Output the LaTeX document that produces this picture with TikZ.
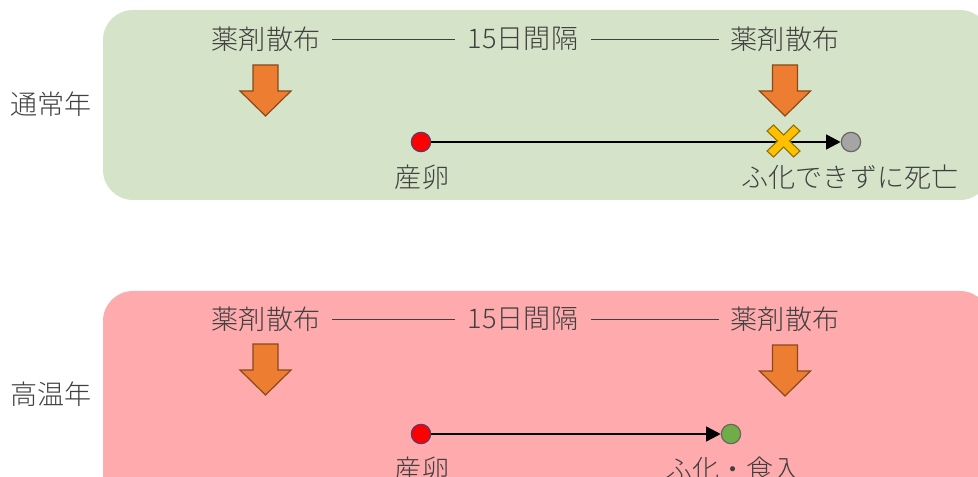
\documentclass[tikz,border=0pt]{standalone}
\usepackage{fontspec}
\setmainfont{Noto Sans CJK JP Light}
\usetikzlibrary{arrows.meta}
\definecolor{txt}{HTML}{404040}
\definecolor{gpanel}{HTML}{D5E4C8}
\definecolor{ppanel}{HTML}{FFABAD}
\definecolor{orng}{HTML}{ED7D31}
\definecolor{orngd}{HTML}{8A4A18}
\definecolor{xcol}{HTML}{FFC000}
\definecolor{xdark}{HTML}{8F6D0A}
\definecolor{grn}{HTML}{70AD47}
\definecolor{gry}{HTML}{A5A5A5}
\definecolor{redline}{HTML}{5A3A6A}
\tikzset{
 x=0.75pt,y=-0.75pt,
 lbl/.style={text=txt,font=\fontsize{20.3pt}{24pt}\selectfont,inner sep=0pt,anchor=center},
 panel/.style={rounded corners=22.5pt,draw=none},
 dot/.style={circle,minimum size=14.5pt,inner sep=0pt,line width=0.9pt},
 timeline/.style={line width=1.9pt,-{Triangle[length=11pt,width=11pt]},black},
 gap/.style={line width=0.75pt,draw=txt},
 sprayarrow/.style={fill=orng,draw=orngd,line width=0.9pt,line join=miter},
 crossm/.style={fill=xcol,draw=xdark,line width=0.8pt},
}
\newcommand{\sprayat}[2]{\draw[sprayarrow] (#1-12.5,#2) -- (#1+12.5,#2) -- (#1+12.5,#2+26) -- (#1+25.5,#2+26) -- (#1,#2+51) -- (#1-25.5,#2+26) -- (#1-12.5,#2+26) -- cycle;}
\begin{document}
\begin{tikzpicture}
\useasboundingbox (0,0) rectangle (978,477);
\clip (0,0) rectangle (978,477);
\fill[gpanel,panel] (103,10) rectangle (990,200);
\fill[ppanel,panel] (103,291) rectangle (990,510);
% top panel
\node[lbl] (ny) at (51,104) {通常年};
\node[lbl] (a1) at (266,39) {薬剤散布};
\node[lbl] (i1) at (523,39) {15日間隔};
\node[lbl] (b1) at (785,39) {薬剤散布};
\draw[gap] (332,40) -- (455,40);
\draw[gap] (591,40) -- (719,40);
\sprayat{265.5}{65}
\sprayat{785}{65}
\node[dot,fill=red,draw=redline] (e1) at (421,142) {};
\node[dot,fill=gry,draw=black!60] (d1) at (851,142) {};
\draw[timeline] (e1) -- (d1);
\draw[crossm] (783.5,135) -- (793.5,125) -- (800,131) -- (789.5,141) -- (800,151) -- (793.5,157) -- (783.5,147) -- (773.5,157) -- (767,151) -- (777.5,141) -- (767,131) -- (773.5,125) -- cycle;
\node[lbl] (el1) at (422,177) {産卵};
\node[lbl] (dl1) at (850,177) {ふ化できずに死亡};
% bottom panel
\node[lbl] (hy) at (51,394) {高温年};
\node[lbl] (a2) at (266,319) {薬剤散布};
\node[lbl] (i2) at (523,319) {15日間隔};
\node[lbl] (b2) at (785,319) {薬剤散布};
\draw[gap] (332,320) -- (455,320);
\draw[gap] (591,320) -- (719,320);
\sprayat{265.5}{344}
\sprayat{785}{345}
\node[dot,fill=red,draw=redline] (e2) at (421,434) {};
\node[dot,fill=grn,draw=black!60] (d2) at (731,434) {};
\draw[timeline] (e2) -- (d2);
\node[lbl] (el2) at (422,469) {産卵};
\node[lbl] (dl2) at (733,469) {ふ化・食入};
\end{tikzpicture}
\end{document}
